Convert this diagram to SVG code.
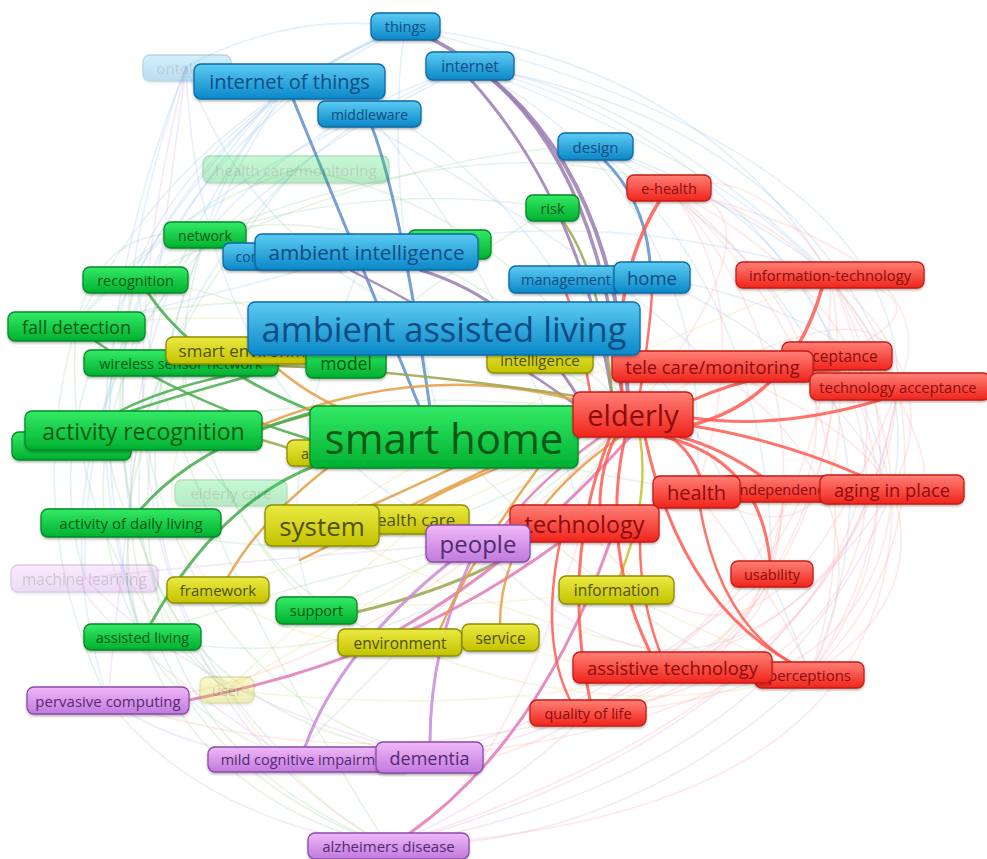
<svg xmlns="http://www.w3.org/2000/svg" width="987" height="859" viewBox="0 0 987 859">
<defs>
<linearGradient id="gb" x1="0" y1="0" x2="0" y2="1"><stop offset="0" stop-color="#5ccbf3"/><stop offset="1" stop-color="#0a88c8"/></linearGradient>
<linearGradient id="gg" x1="0" y1="0" x2="0" y2="1"><stop offset="0" stop-color="#34ea66"/><stop offset="1" stop-color="#00b030"/></linearGradient>
<linearGradient id="gr" x1="0" y1="0" x2="0" y2="1"><stop offset="0" stop-color="#ff8076"/><stop offset="1" stop-color="#f0241c"/></linearGradient>
<linearGradient id="gy" x1="0" y1="0" x2="0" y2="1"><stop offset="0" stop-color="#eaea44"/><stop offset="1" stop-color="#c4c200"/></linearGradient>
<linearGradient id="gp" x1="0" y1="0" x2="0" y2="1"><stop offset="0" stop-color="#f0b8f8"/><stop offset="1" stop-color="#c07ade"/></linearGradient>
<filter id="sh" x="-10%" y="-20%" width="120%" height="150%"><feDropShadow dx="0" dy="1.5" stdDeviation="1.2" flood-color="#000" flood-opacity="0.3"/></filter>
</defs>
<style>
text{font-family:"Open Sans","Noto Sans","DejaVu Sans",sans-serif;text-anchor:middle;dominant-baseline:central}
.n rect{rx:7;ry:7;stroke-width:1.3;filter:url(#sh)}
.b rect{fill:url(#gb);stroke:#0b6aa5}.b text{fill:#0f4c84}
.g rect{fill:url(#gg);stroke:#078a26}.g text{fill:#075a16}
.r rect{fill:url(#gr);stroke:#c81a14}.r text{fill:#8c0c0c}
.y rect{fill:url(#gy);stroke:#8e8e00}.y text{fill:#505000}
.p rect{fill:url(#gp);stroke:#8a4ca8}.p text{fill:#55296f}
.fade{opacity:0.28}
.f path{fill:none;stroke-width:1.6;opacity:0.3}
.fb{stroke:#a6cdee}.fg{stroke:#a4dca6}.fr{stroke:#ffb4ae}.fy{stroke:#e2e296}.fp{stroke:#dcb4ec}
.e path{fill:none;stroke-linecap:round;opacity:0.85}
.eb{stroke:#5f8fcc}.ep{stroke:#9a7cb2}.eg{stroke:#45ad4c}.eo{stroke:#e59c40}.eol{stroke:#9aa64e}.er{stroke:#ff5a50}.epk{stroke:#e27ab8}.epu{stroke:#c98ad8}.ey{stroke:#c8bf30}
</style>
<rect width="987" height="859" fill="#fff"/>
<g id="connectors">
<g class="f">
<path class="fb" d="M186,67 Q290,10 405,27"/>
<path class="fb" d="M186,67 Q250,250 444,328"/>
<path class="fb" d="M186,67 Q100,300 131,523"/>
<path class="fb" d="M186,67 Q60,380 142,637"/>
<path class="fb" d="M186,67 Q200,420 478,543"/>
<path class="fb" d="M405,27 Q250,80 205,235"/>
<path class="fb" d="M405,27 Q220,100 135,280"/>
<path class="fb" d="M405,27 Q180,120 76,326"/>
<path class="fb" d="M405,27 Q380,200 444,437"/>
<path class="fb" d="M470,66 Q300,120 205,235"/>
<path class="fb" d="M470,66 Q220,160 143,430"/>
<path class="fb" d="M470,66 Q720,200 696,492"/>
<path class="fb" d="M470,66 Q800,150 892,490"/>
<path class="fb" d="M405,27 Q700,60 830,275"/>
<path class="fb" d="M290,81 Q120,300 131,523"/>
<path class="fb" d="M290,81 Q80,300 85,578"/>
<path class="fb" d="M290,81 Q500,120 633,414"/>
<path class="fb" d="M370,114 Q180,200 76,326"/>
<path class="fb" d="M370,114 Q520,300 584,523"/>
<path class="fb" d="M470,66 Q800,120 898,386"/>
<path class="fb" d="M405,27 Q140,160 100,440"/>
<path class="fb" d="M470,66 Q640,90 830,275"/>
<path class="fb" d="M290,81 Q170,200 135,280"/>
<path class="fb" d="M366,252 Q200,300 76,326"/>
<path class="fb" d="M366,252 Q260,500 316,610"/>
<path class="fb" d="M652,277 Q820,350 892,490"/>
<path class="fb" d="M652,277 Q800,300 898,386"/>
<path class="fb" d="M595,146 Q780,200 837,356"/>
<path class="fb" d="M595,146 Q770,300 772,574"/>
<path class="fb" d="M595,146 Q730,200 830,275"/>
<path class="fb" d="M566,280 Q700,380 810,675"/>
<path class="fb" d="M405,27 Q0,200 142,637"/>
<path class="fb" d="M470,66 Q-20,300 108,700"/>
<path class="fb" d="M290,81 Q20,500 290,760"/>
<path class="fb" d="M595,146 Q950,350 810,675"/>
<path class="fb" d="M470,66 Q950,250 892,490"/>
<path class="fb" d="M405,27 Q900,150 898,386"/>
<path class="fb" d="M366,252 Q600,200 830,275"/>
<path class="fb" d="M290,81 Q600,250 712,366"/>
<path class="fp" d="M186,67 Q40,650 388,846"/>
<path class="fg" d="M205,235 Q30,700 388,846"/>
<path class="fg" d="M135,280 Q60,700 430,757"/>
<path class="fg" d="M296,169 Q150,220 76,326"/>
<path class="fg" d="M296,169 Q500,200 633,414"/>
<path class="fg" d="M205,235 Q60,380 131,523"/>
<path class="fg" d="M205,235 Q40,450 142,637"/>
<path class="fg" d="M135,280 Q40,430 85,578"/>
<path class="fg" d="M135,280 Q80,520 227,690"/>
<path class="fg" d="M76,326 Q60,560 227,690"/>
<path class="fg" d="M76,326 Q20,520 108,700"/>
<path class="fg" d="M131,523 Q100,680 290,760"/>
<path class="fg" d="M131,523 Q150,760 388,846"/>
<path class="fg" d="M142,637 Q200,800 388,846"/>
<path class="fg" d="M231,493 Q280,600 400,642"/>
<path class="fg" d="M143,430 Q200,700 430,757"/>
<path class="fg" d="M181,363 Q220,520 316,610"/>
<path class="fg" d="M205,235 Q380,180 552,208"/>
<path class="fg" d="M205,235 Q400,180 633,414"/>
<path class="fg" d="M135,280 Q250,290 346,362"/>
<path class="fg" d="M142,637 Q300,580 478,543"/>
<path class="fg" d="M316,610 Q480,560 633,414"/>
<path class="fg" d="M181,363 Q100,500 142,637"/>
<path class="fg" d="M143,430 Q120,600 227,690"/>
<path class="fg" d="M205,235 Q150,420 231,493"/>
<path class="fg" d="M296,169 Q120,380 131,523"/>
<path class="fg" d="M76,326 Q100,220 205,235"/>
<path class="fg" d="M552,208 Q400,300 346,362"/>
<path class="fg" d="M135,280 Q180,520 388,846"/>
<path class="fg" d="M76,326 Q400,250 633,414"/>
<path class="fg" d="M143,430 Q400,380 633,414"/>
<path class="fg" d="M131,523 Q400,600 633,414"/>
<path class="fg" d="M142,637 Q450,700 633,414"/>
<path class="fg" d="M444,437 Q700,700 810,675"/>
<path class="fg" d="M444,437 Q750,520 892,490"/>
<path class="fg" d="M205,235 Q500,120 669,188"/>
<path class="fg" d="M135,280 Q400,150 595,146"/>
<path class="fy" d="M227,690 Q420,580 633,414"/>
<path class="fy" d="M218,590 Q300,650 400,642"/>
<path class="fy" d="M218,590 Q400,620 616,590"/>
<path class="fy" d="M400,642 Q600,730 810,675"/>
<path class="fy" d="M500,637 Q650,700 810,675"/>
<path class="fy" d="M322,525 Q550,650 810,675"/>
<path class="fy" d="M227,690 Q300,800 388,846"/>
<path class="fy" d="M540,359 Q300,300 76,326"/>
<path class="fy" d="M230,350 Q120,500 218,590"/>
<path class="fy" d="M424,519 Q300,620 227,690"/>
<path class="fy" d="M616,590 Q720,640 810,675"/>
<path class="fy" d="M218,590 Q450,520 633,414"/>
<path class="fy" d="M227,690 Q500,720 672,667"/>
<path class="fy" d="M322,525 Q500,400 830,275"/>
<path class="fp" d="M85,578 Q250,560 478,543"/>
<path class="fp" d="M85,578 Q200,700 430,757"/>
<path class="fp" d="M108,700 Q200,820 388,846"/>
<path class="fp" d="M108,700 Q180,750 290,760"/>
<path class="fp" d="M388,846 Q620,850 810,675"/>
<path class="fp" d="M388,846 Q500,800 588,713"/>
<path class="fp" d="M430,757 Q620,700 772,574"/>
<path class="fp" d="M290,760 Q400,650 633,414"/>
<path class="fp" d="M388,846 Q780,780 892,490"/>
<path class="fp" d="M388,846 Q850,720 898,386"/>
<path class="fp" d="M430,757 Q550,740 672,667"/>
<path class="fp" d="M108,700 Q120,560 186,67"/>
<path class="fp" d="M290,760 Q60,600 85,578"/>
<path class="fp" d="M478,543 Q700,780 892,490"/>
<path class="fr" d="M669,188 Q820,220 898,386"/>
<path class="fr" d="M669,188 Q880,300 892,490"/>
<path class="fr" d="M669,188 Q820,360 772,574"/>
<path class="fr" d="M669,188 Q900,400 810,675"/>
<path class="fr" d="M830,275 Q950,380 892,490"/>
<path class="fr" d="M830,275 Q940,480 810,675"/>
<path class="fr" d="M830,275 Q860,420 772,574"/>
<path class="fr" d="M830,275 Q840,560 588,713"/>
<path class="fr" d="M837,356 Q930,520 810,675"/>
<path class="fr" d="M837,356 Q820,640 588,713"/>
<path class="fr" d="M898,386 Q930,560 810,675"/>
<path class="fr" d="M898,386 Q880,600 672,667"/>
<path class="fr" d="M898,386 Q850,680 588,713"/>
<path class="fr" d="M892,490 Q930,600 810,675"/>
<path class="fr" d="M892,490 Q880,700 588,713"/>
<path class="fr" d="M772,574 Q720,680 588,713"/>
<path class="fr" d="M772,574 Q760,640 672,667"/>
<path class="fr" d="M696,492 Q780,600 810,675"/>
<path class="fr" d="M784,489 Q780,620 672,667"/>
<path class="fr" d="M784,489 Q760,700 588,713"/>
<path class="fr" d="M712,366 Q900,500 810,675"/>
<path class="fr" d="M712,366 Q850,420 892,490"/>
<path class="fr" d="M696,492 Q760,300 669,188"/>
<path class="fr" d="M633,414 Q350,700 108,700"/>
<path class="fr" d="M584,523 Q500,800 388,846"/>
<path class="fr" d="M588,713 Q350,780 108,700"/>
<path class="fr" d="M588,713 Q450,800 290,760"/>
<path class="fr" d="M669,188 Q760,160 830,275"/>
<path class="fr" d="M837,356 Q960,300 830,275"/>
<path class="fr" d="M669,188 Q960,260 898,386"/>
<path class="fr" d="M830,275 Q980,520 892,490"/>
<path class="fr" d="M696,492 Q860,580 837,356"/>
<path class="fr" d="M584,523 Q760,760 898,386"/>
<path class="fr" d="M633,414 Q900,260 898,386"/>
<path class="fr" d="M633,414 Q800,200 669,188"/>
<path class="fr" d="M669,188 Q1000,450 588,713"/>
<path class="fr" d="M830,275 Q1000,650 388,846"/>
<path class="fr" d="M837,356 Q980,700 430,757"/>
<path class="fr" d="M892,490 Q900,820 388,846"/>
</g>
<g class="e">
<path class="ep" stroke-width="4" d="M430,38 Q610,130 628,395"/>
<path class="ep" stroke-width="3.5" d="M490,78 Q600,170 622,395"/>
<path class="ep" stroke-width="3" d="M470,79 Q580,200 612,395"/>
<path class="eb" stroke-width="3" d="M603,159 Q645,200 650,263"/>
<path class="eb" stroke-width="3" d="M293,99 Q330,190 420,408"/>
<path class="eb" stroke-width="3" d="M372,127 Q400,200 430,408"/>
<path class="ep" stroke-width="3" d="M420,270 Q520,300 580,400"/>
<path class="ep" stroke-width="2.5" d="M350,270 Q470,330 576,405"/>
<path class="er" stroke-width="3.5" d="M660,200 Q610,280 622,393"/>
<path class="eol" stroke-width="2.5" d="M562,220 Q600,270 612,393"/>
<path class="er" stroke-width="3.5" d="M822,288 Q790,400 692,425"/>
<path class="eg" stroke-width="3" d="M148,293 Q200,370 330,418"/>
<path class="eg" stroke-width="2.5" d="M95,341 Q180,400 312,440"/>
<path class="eg" stroke-width="2.5" d="M250,376 Q180,395 128,412"/>
<path class="eg" stroke-width="2.5" d="M225,376 Q160,390 118,412"/>
<path class="eol" stroke-width="2.5" d="M262,428 Q290,420 312,414"/>
<path class="eol" stroke-width="2.5" d="M262,440 Q290,448 312,456"/>
<path class="eg" stroke-width="3" d="M140,510 Q200,440 330,408"/>
<path class="eg" stroke-width="3" d="M150,625 Q220,500 320,464"/>
<path class="eo" stroke-width="2.5" d="M228,577 Q260,520 330,466"/>
<path class="eo" stroke-width="2.5" d="M268,360 Q300,390 340,408"/>
<path class="eol" stroke-width="3" d="M357,612 Q450,590 515,553"/>
<path class="epk" stroke-width="3" d="M189,700 Q400,660 560,542"/>
<path class="epu" stroke-width="3" d="M305,747 Q340,650 450,562"/>
<path class="epu" stroke-width="3" d="M430,742 Q430,650 470,562"/>
<path class="epk" stroke-width="3" d="M410,833 Q540,740 610,542"/>
<path class="epk" stroke-width="3" d="M400,629 Q520,560 630,437"/>
<path class="eo" stroke-width="2.5" d="M500,624 Q500,520 620,437"/>
<path class="ey" stroke-width="2.5" d="M620,576 Q650,500 640,437"/>
<path class="er" stroke-width="3" d="M590,700 Q560,560 610,437"/>
<path class="er" stroke-width="3" d="M650,652 Q600,550 625,437"/>
<path class="er" stroke-width="3" d="M790,662 Q680,600 645,437"/>
<path class="er" stroke-width="3" d="M770,561 Q760,460 665,437"/>
<path class="er" stroke-width="3" d="M860,475 Q780,440 693,426"/>
<path class="er" stroke-width="3" d="M880,400 Q780,430 693,418"/>
<path class="er" stroke-width="3" d="M840,370 Q760,370 693,400"/>
<path class="er" stroke-width="3" d="M780,490 Q730,450 680,437"/>
<path class="er" stroke-width="3" d="M700,476 Q690,450 670,437"/>
<path class="er" stroke-width="3" d="M600,505 Q600,470 615,437"/>
<path class="er" stroke-width="2.5" d="M560,542 Q540,640 570,700"/>
<path class="er" stroke-width="2.5" d="M640,542 Q640,600 660,652"/>
<path class="er" stroke-width="2.5" d="M700,508 Q720,620 790,662"/>
<path class="eo" stroke-width="2.5" d="M575,400 Q420,360 262,425"/>
<path class="eol" stroke-width="2.5" d="M575,396 Q400,370 278,366"/>
<path class="eo" stroke-width="2.5" d="M575,410 Q450,470 370,506"/>
<path class="eo" stroke-width="2.5" d="M580,437 Q460,480 420,505"/>
<path class="epk" stroke-width="2.5" d="M600,437 Q540,480 505,525"/>
<path class="eo" stroke-width="2.5" d="M575,420 Q480,540 440,629"/>
<path class="er" stroke-width="2.5" d="M590,392 Q580,330 566,293"/>
<path class="er" stroke-width="2.5" d="M640,392 Q650,330 652,293"/>
<path class="eo" stroke-width="2.5" d="M575,428 Q420,500 300,560"/>
</g>
</g>
<g id="nodes">
<g id="n-ontology" class="n b fade"><rect x="143" y="55" width="88" height="26"/><text x="187" y="68" font-size="15">ontology</text></g>
<g id="n-hcm" class="n g fade"><rect x="203" y="156" width="186" height="27"/><text x="296" y="169.5" font-size="15">health care/monitoring</text></g>
<g id="n-elderlycare" class="n g fade"><rect x="175" y="480" width="112" height="26"/><text x="231" y="493" font-size="15">elderly care</text></g>
<g id="n-ml" class="n p fade"><rect x="11" y="565" width="147" height="27"/><text x="84.5" y="578.5" font-size="15.5">machine learning</text></g>
<g id="n-user" class="n y fade"><rect x="200" y="677" width="54" height="26"/><text x="227" y="690" font-size="14.5">user</text></g>

<g id="n-things" class="n b"><rect x="371" y="13" width="69" height="27"/><text x="405.5" y="26.5" font-size="14.5">things</text></g>
<g id="n-internet" class="n b"><rect x="426" y="52" width="88" height="28"/><text x="470" y="66" font-size="15.5">internet</text></g>
<g id="n-iot" class="n b"><rect x="194" y="64" width="191" height="35"/><text x="289.5" y="81.5" font-size="20">internet of things</text></g>
<g id="n-middleware" class="n b"><rect x="318" y="101" width="103" height="26"/><text x="369.5" y="114" font-size="14">middleware</text></g>
<g id="n-design" class="n b"><rect x="558" y="133" width="75" height="27"/><text x="595.5" y="146.5" font-size="15">design</text></g>
<g id="n-ehealth" class="n r"><rect x="627" y="175" width="84" height="26"/><text x="669" y="188" font-size="14.5">e-health</text></g>
<g id="n-risk" class="n g"><rect x="526" y="195" width="53" height="26"/><text x="552.5" y="208" font-size="14.5">risk</text></g>
<g id="n-network" class="n g"><rect x="164" y="222" width="82" height="26"/><text x="205" y="235" font-size="14">network</text></g>
<g id="n-green-hidden" class="n g"><rect x="408" y="230" width="83" height="29"/></g>
<g id="n-communication" class="n b"><rect x="223" y="243" width="127" height="27"/><text x="286.5" y="256.5" font-size="14">communication</text></g>
<g id="n-ami" class="n b"><rect x="255" y="234" width="223" height="36"/><text x="366.5" y="252" font-size="20.8">ambient intelligence</text></g>
<g id="n-management" class="n b"><rect x="509" y="266" width="114" height="27"/><text x="566" y="279.5" font-size="14.5">management</text></g>
<g id="n-home" class="n b"><rect x="614" y="262" width="76" height="31"/><text x="652" y="277.5" font-size="18.5">home</text></g>
<g id="n-infotech" class="n r"><rect x="736" y="262" width="188" height="26"/><text x="830" y="275" font-size="14.8">information-technology</text></g>
<g id="n-recognition" class="n g"><rect x="83" y="267" width="105" height="26"/><text x="135.5" y="280" font-size="14.5">recognition</text></g>
<g id="n-falldetection" class="n g"><rect x="8" y="312" width="137" height="29"/><text x="76.5" y="326.5" font-size="18">fall detection</text></g>
<g id="n-wsn" class="n g"><rect x="84" y="350" width="194" height="26"/><text x="181" y="363" font-size="14.5">wireless sensor network</text></g>
<g id="n-smartenv" class="n y"><rect x="166" y="337" width="178" height="27"/><text x="255" y="350.5" font-size="17">smart environment</text></g>
<g id="n-model" class="n g"><rect x="306" y="347" width="80" height="31"/><text x="346" y="362.5" font-size="17.5">model</text></g>
<g id="n-intelligence" class="n y"><rect x="487" y="346" width="106" height="27"/><text x="540" y="359.5" font-size="15">intelligence</text></g>
<g id="n-acceptance" class="n r"><rect x="782" y="342" width="110" height="28"/><text x="837" y="356" font-size="15.5">acceptance</text></g>
<g id="n-telecare" class="n r"><rect x="612" y="351" width="201" height="31"/><text x="712.5" y="366.5" font-size="18.3">tele care/monitoring</text></g>
<g id="n-aal" class="n b"><rect x="248" y="302" width="392" height="53"/><text x="444" y="328.5" font-size="34.5">ambient assisted living</text></g>
<g id="n-techacceptance" class="n r"><rect x="810" y="373" width="180" height="27"/><text x="898" y="386.5" font-size="14.8">technology acceptance</text></g>
<g id="n-green-hidden2" class="n g"><rect x="12" y="432" width="119" height="28"/></g>
<g id="n-activityrec" class="n g"><rect x="25" y="411" width="237" height="39"/><text x="143.5" y="430.5" font-size="23">activity recognition</text></g>
<g id="n-architecture" class="n y"><rect x="287" y="440" width="110" height="26"/><text x="342" y="453" font-size="14.5">architecture</text></g>
<g id="n-smarthome" class="n g"><rect x="310" y="406" width="268" height="62"/><text x="444" y="437" font-size="42">smart home</text></g>
<g id="n-elderly" class="n r"><rect x="573" y="392" width="120" height="45"/><text x="633" y="414.5" font-size="29">elderly</text></g>
<g id="n-independence" class="n r"><rect x="722" y="476" width="124" height="26"/><text x="784" y="489" font-size="14.5">independence</text></g>
<g id="n-health" class="n r"><rect x="653" y="476" width="87" height="32"/><text x="696.5" y="492" font-size="20">health</text></g>
<g id="n-aginginplace" class="n r"><rect x="820" y="475" width="144" height="29"/><text x="892" y="489.5" font-size="18.3">aging in place</text></g>
<g id="n-adl" class="n g"><rect x="41" y="509" width="180" height="28"/><text x="131" y="523" font-size="15">activity of daily living</text></g>
<g id="n-healthcare" class="n y"><rect x="353" y="505" width="116" height="29"/><text x="411" y="519.5" font-size="17">health care</text></g>
<g id="n-system" class="n y"><rect x="265" y="505" width="114" height="41"/><text x="322" y="525.5" font-size="26">system</text></g>
<g id="n-technology" class="n r"><rect x="510" y="505" width="149" height="37"/><text x="584.5" y="523.5" font-size="23.4">technology</text></g>
<g id="n-people" class="n p"><rect x="426" y="525" width="104" height="37"/><text x="478" y="543.5" font-size="24">people</text></g>
<g id="n-usability" class="n r"><rect x="731" y="561" width="82" height="26"/><text x="772" y="574" font-size="14.5">usability</text></g>
<g id="n-framework" class="n y"><rect x="167" y="577" width="102" height="26"/><text x="218" y="590" font-size="15">framework</text></g>
<g id="n-information" class="n y"><rect x="559" y="576" width="115" height="28"/><text x="616.5" y="590" font-size="15.5">information</text></g>
<g id="n-support" class="n g"><rect x="276" y="597" width="81" height="27"/><text x="316.5" y="610.5" font-size="14.5">support</text></g>
<g id="n-assistedliving" class="n g"><rect x="84" y="624" width="117" height="26"/><text x="142.5" y="637" font-size="14.5">assisted living</text></g>
<g id="n-environment" class="n y"><rect x="338" y="629" width="124" height="27"/><text x="400" y="642.5" font-size="15.5">environment</text></g>
<g id="n-service" class="n y"><rect x="462" y="624" width="77" height="27"/><text x="500.5" y="637.5" font-size="15.5">service</text></g>
<g id="n-perceptions" class="n r"><rect x="755" y="662" width="109" height="26"/><text x="809.5" y="675" font-size="15">perceptions</text></g>
<g id="n-assistivetech" class="n r"><rect x="573" y="652" width="199" height="31"/><text x="672.5" y="667.5" font-size="18.4">assistive technology</text></g>
<g id="n-pervasive" class="n p"><rect x="27" y="687" width="162" height="27"/><text x="108" y="700.5" font-size="15">pervasive computing</text></g>
<g id="n-qol" class="n r"><rect x="530" y="700" width="116" height="26"/><text x="588" y="713" font-size="14.5">quality of life</text></g>
<g id="n-mci" class="n p"><rect x="208" y="747" width="202" height="25"/><text x="309" y="759.5" font-size="14.5">mild cognitive impairment</text></g>
<g id="n-dementia" class="n p"><rect x="376" y="742" width="107" height="31"/><text x="429.5" y="757.5" font-size="18">dementia</text></g>
<g id="n-alzheimers" class="n p"><rect x="308" y="833" width="161" height="26"/><text x="388.5" y="846" font-size="15">alzheimers disease</text></g>
</g>
</svg>
